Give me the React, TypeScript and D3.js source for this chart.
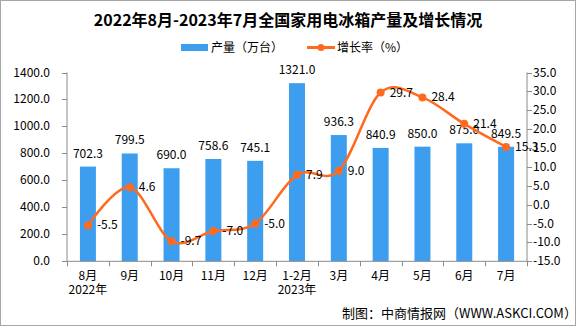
import React from "react";
import * as d3 from "d3";

const categories = ["8月", "9月", "10月", "11月", "12月", "1-2月", "3月", "4月", "5月", "6月", "7月"];
const subLabels = ["2022年", "", "", "", "", "2023年", "", "", "", "", ""];
const production = [702.3, 799.5, 690.0, 758.6, 745.1, 1321.0, 936.3, 840.9, 850.0, 875.0, 849.5];
const growth = [-5.5, 4.6, -9.7, -7.0, -5.0, 7.9, 9.0, 29.7, 28.4, 21.4, 15.3];
const leftTicks = [0, 200, 400, 600, 800, 1000, 1200, 1400];
const rightTicks = [-15, -10, -5, 0, 5, 10, 15, 20, 25, 30, 35];

const W = 576;
const H = 326;
const FONT = "'Noto Sans CJK SC', 'Noto Sans', sans-serif";
const BAR = "#3d9ef0";
const LINE = "#ff6a1e";
const AXIS = "#8a8a8a";

export default function App() {
  const x0 = 67, x1 = 527, yTop = 72.5, yBot = 261.3;
  const x = d3.scaleBand<string>().domain(categories).range([x0, x1]).padding(0);
  const yL = d3.scaleLinear().domain([0, 1400]).range([yBot, yTop]);
  const yR = d3.scaleLinear().domain([-15, 35]).range([yBot, yTop]);
  const bw = 16;
  const cx = (c: string) => (x(c) as number) + x.bandwidth() / 2;
  const pts: [number, number][] = growth.map((g, i) => [cx(categories[i]), yR(g)]);
  const line = d3.line().curve(d3.curveCardinal.tension(0))(pts) as string;
  const boundaries = d3.range(categories.length + 1).map((i) => x0 + i * x.bandwidth());

  return (
    <svg width={W} height={H} style={{ position: "absolute", left: 0, top: 0, background: "#fff" }} fontFamily={FONT}>
      <rect x={0.5} y={0.5} width={W - 1} height={H - 1} fill="#fff" stroke="#a6a6a6" />
      <text x={288} y={26} textAnchor="middle" fontSize={16} fontWeight="bold" fill="#000">
        2022年8月-2023年7月全国家用电冰箱产量及增长情况
      </text>
      {/* legend */}
      <rect x={181} y={44} width={27} height={7} fill={BAR} />
      <text x={211} y={51.5} fontSize={12} fill="#000">产量（万台）</text>
      <line x1={307} x2={335} y1={47.5} y2={47.5} stroke={LINE} strokeWidth={3} />
      <circle cx={321} cy={47.5} r={3.5} fill={LINE} />
      <text x={337} y={51.5} fontSize={12} fill="#000">增长率（%）</text>

      {/* bars */}
      {production.map((v, i) => (
        <rect key={"b" + i} x={cx(categories[i]) - bw / 2} y={yL(v)} width={bw} height={yBot - yL(v)} fill={BAR} />
      ))}
      {production.map((v, i) => (
        <text key={"bl" + i} x={cx(categories[i])} y={yL(v) - 9} textAnchor="middle" fontSize={12} fill="#000">
          {v.toFixed(1)}
        </text>
      ))}

      {/* axes */}
      <line x1={x0} x2={x0} y1={yTop} y2={yBot} stroke={AXIS} />
      <line x1={x1} x2={x1} y1={yTop} y2={yBot} stroke={AXIS} />
      <line x1={x0} x2={x1} y1={yBot} y2={yBot} stroke={AXIS} />
      {leftTicks.map((t) => (
        <g key={"lt" + t}>
          <line x1={x0 - 5} x2={x0} y1={Math.round(yL(t)) + 0.5} y2={Math.round(yL(t)) + 0.5} stroke={AXIS} />
          <text x={x0 - 17} y={yL(t) + 4} textAnchor="end" fontSize={12} fill="#000">{t.toFixed(1)}</text>
        </g>
      ))}
      {rightTicks.map((t) => (
        <g key={"rt" + t}>
          <line x1={x1} x2={x1 + 5} y1={Math.round(yR(t)) + 0.5} y2={Math.round(yR(t)) + 0.5} stroke={AXIS} />
          <text x={x1 + 6} y={yR(t) + 4} textAnchor="start" fontSize={12} fill="#000">{t.toFixed(1)}</text>
        </g>
      ))}
      {boundaries.map((b, i) => (
        <line key={"bt" + i} x1={Math.round(b) + 0.5} x2={Math.round(b) + 0.5} y1={yBot} y2={yBot + 5} stroke={AXIS} />
      ))}
      {categories.map((c, i) => (
        <g key={"xl" + i}>
          <text x={cx(c)} y={280} textAnchor="middle" fontSize={12} fill="#000">{c}</text>
          {subLabels[i] && (
            <text x={cx(c)} y={294} textAnchor="middle" fontSize={12} fill="#000">{subLabels[i]}</text>
          )}
        </g>
      ))}

      {/* line */}
      <path d={line} fill="none" stroke={LINE} strokeWidth={2.5} />
      {pts.map((p, i) => (
        <circle key={"p" + i} cx={p[0]} cy={p[1]} r={4} fill={LINE} />
      ))}
      {pts.map((p, i) => (
        <text key={"pl" + i} x={p[0] + 9} y={p[1] + 4} fontSize={12} fill="#000">
          {growth[i].toFixed(1)}
        </text>
      ))}

      <text x={342} y={318} fontSize={13} fill="#000">制图：中商情报网（WWW.ASKCI.COM）</text>
    </svg>
  );
}
